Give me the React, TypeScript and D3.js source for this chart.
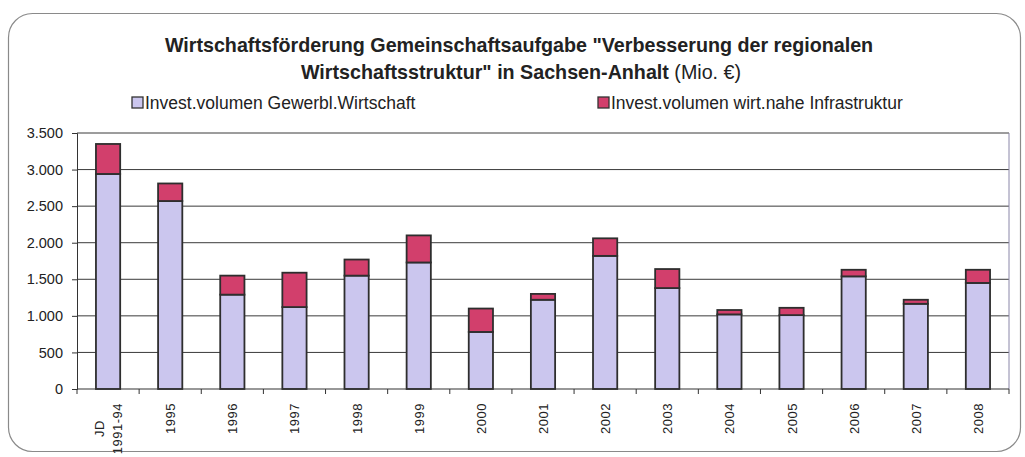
import { useEffect, useRef } from 'react';
import * as d3 from 'd3';

// chart data (Mio. €)
const categories = ['JD\n1991-94', '1995', '1996', '1997', '1998', '1999', '2000', '2001', '2002', '2003', '2004', '2005', '2006', '2007', '2008'];
const gewerbl = [2940, 2570, 1290, 1120, 1550, 1730, 780, 1220, 1820, 1380, 1020, 1010, 1540, 1165, 1450];
const infra = [410, 240, 260, 470, 220, 370, 320, 80, 240, 260, 60, 100, 90, 55, 180];
const yTicks = [0, 500, 1000, 1500, 2000, 2500, 3000, 3500];
const seriesNames = ['Invest.volumen Gewerbl.Wirtschaft', 'Invest.volumen wirt.nahe Infrastruktur'];
const seriesColors = ['#cbc6ee', '#d23f6c'];

const W = 1025;
const H = 457;
const FONT = '"Liberation Sans", Arial, sans-serif';

export default function App() {
  const ref = useRef<SVGSVGElement | null>(null);

  useEffect(() => {
    if (!ref.current) return;
    const svg = d3.select(ref.current);
    svg.selectAll('*').remove();

    // outer rounded frame
    svg.append('rect')
      .attr('x', 8.5).attr('y', 13.5)
      .attr('width', 1012).attr('height', 438)
      .attr('rx', 24)
      .attr('fill', 'white')
      .attr('stroke', '#8a8a8a')
      .attr('stroke-width', 1.2);

    // title
    const title = svg.append('text')
      .attr('text-anchor', 'middle')
      .attr('font-family', FONT)
      .attr('font-size', 19.7)
      .attr('fill', '#222');
    title.append('tspan').attr('x', 519).attr('y', 52)
      .attr('font-weight', 'bold')
      .text('Wirtschaftsförderung Gemeinschaftsaufgabe "Verbesserung der regionalen');
    const l2 = title.append('tspan').attr('x', 521).attr('y', 79);
    l2.append('tspan').attr('font-weight', 'bold').text('Wirtschaftsstruktur" in Sachsen-Anhalt');
    l2.append('tspan').text(' (Mio. €)');

    // legend
    const legendX = [132, 598];
    seriesNames.forEach((name, i) => {
      svg.append('rect')
        .attr('x', legendX[i]).attr('y', 97)
        .attr('width', 11).attr('height', 11)
        .attr('fill', seriesColors[i])
        .attr('stroke', '#333').attr('stroke-width', 1.3);
      svg.append('text')
        .attr('x', legendX[i] + 13).attr('y', 109)
        .attr('font-family', FONT)
        .attr('font-size', 17.5)
        .attr('fill', '#222')
        .text(name);
    });

    const left = 77;
    const right = 1009;
    const top = 133;
    const bottom = 389;

    const x = d3.scaleBand<string>()
      .domain(categories)
      .range([left, right])
      .paddingInner(0.61)
      .paddingOuter(0.305);

    const y = d3.scaleLinear().domain([0, 3500]).range([bottom, top]);

    // gridlines
    svg.append('g')
      .selectAll('line')
      .data(yTicks.filter(t => t > 0))
      .enter()
      .append('line')
      .attr('x1', left).attr('x2', right)
      .attr('y1', d => y(d)).attr('y2', d => y(d))
      .attr('stroke', '#3a3a3a')
      .attr('stroke-width', 1);

    // right border of plot area
    svg.append('line')
      .attr('x1', right).attr('x2', right)
      .attr('y1', top).attr('y2', bottom)
      .attr('stroke', '#8a86a8').attr('stroke-width', 1);

    // stacked bars
    const rows = categories.map((c, i) => ({ cat: c, gewerbl: gewerbl[i], infra: infra[i] }));
    const stack = d3.stack<{ cat: string; gewerbl: number; infra: number }>().keys(['gewerbl', 'infra']);
    const layers = stack(rows);

    svg.append('g')
      .selectAll('g')
      .data(layers)
      .enter()
      .append('g')
      .attr('fill', (_, i) => seriesColors[i])
      .selectAll('rect')
      .data(d => d)
      .enter()
      .append('rect')
      .attr('x', d => x(d.data.cat)!)
      .attr('width', x.bandwidth())
      .attr('y', d => y(d[1]))
      .attr('height', d => y(d[0]) - y(d[1]))
      .attr('stroke', '#2e2e2e')
      .attr('stroke-width', 1.8);

    // y axis
    const yAxis = svg.append('g')
      .attr('transform', `translate(${left},0)`)
      .call(d3.axisLeft(y).tickValues(yTicks).tickSize(5).tickPadding(9)
        .tickFormat(d => d3.format(',')(d as number).replace(/,/g, '.')));
    yAxis.select('.domain').attr('stroke', '#333');
    yAxis.selectAll('.tick line').attr('stroke', '#333');
    yAxis.selectAll('text')
      .attr('font-family', FONT)
      .attr('font-size', 14.5)
      .attr('fill', '#222');

    // x axis: baseline with ticks between categories
    const step = x.step();
    const xAxis = svg.append('g');
    xAxis.append('line')
      .attr('x1', left).attr('x2', right)
      .attr('y1', bottom).attr('y2', bottom)
      .attr('stroke', '#333').attr('stroke-width', 1.2);
    xAxis.selectAll('.xt')
      .data(d3.range(categories.length + 1))
      .enter()
      .append('line')
      .attr('class', 'xt')
      .attr('x1', i => left + i * step).attr('x2', i => left + i * step)
      .attr('y1', bottom).attr('y2', bottom + 5)
      .attr('stroke', '#333');

    // rotated category labels
    categories.forEach(cat => {
      const cx = x(cat)! + x.bandwidth() / 2;
      const lines = cat.split('\n');
      const g = svg.append('g').attr('transform', `translate(${cx},403) rotate(-90)`);
      const texts = lines.map(line =>
        g.append('text')
          .attr('font-family', FONT)
          .attr('font-size', 13)
          .attr('letter-spacing', 0.5)
          .attr('fill', '#222')
          .attr('text-anchor', 'middle')
          .text(line)
      );
      const maxLen = d3.max(texts, t => (t.node() as SVGTextElement).getComputedTextLength()) || 0;
      const lh = 18;
      texts.forEach((t, i) => {
        const off = (i - (lines.length - 1) / 2) * lh;
        t.attr('x', -maxLen / 2).attr('y', off + 5);
      });
    });
  }, []);

  return (
    <svg
      ref={ref}
      width={W}
      height={H}
      style={{ position: 'absolute', left: 0, top: 0, background: 'white' }}
    />
  );
}
